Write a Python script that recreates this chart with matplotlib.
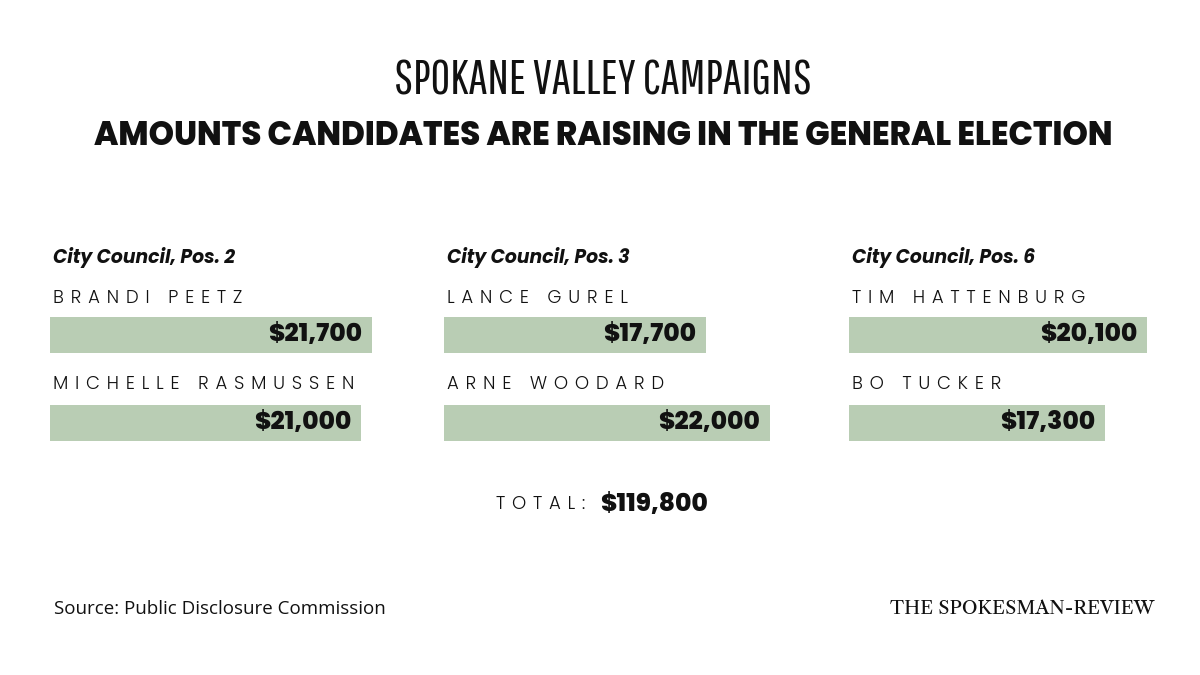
"""
plot.py

Spokane Valley campaigns: three small groups of horizontal bars, one group
per council position, with the dollar amount printed inside each bar.
"""
import matplotlib
matplotlib.use("Agg")
import matplotlib.pyplot as plt

BACKGROUND = "#FFFFFF"
BAR = "#B9CDB4"
TEXT = "#111111"

W, H = 1200, 675

positions = ["City Council, Pos. 2", "City Council, Pos. 3", "City Council, Pos. 6"]
candidates = [
    ["BRANDI PEETZ", "MICHELLE RASMUSSEN"],
    ["LANCE GUREL", "ARNE WOODARD"],
    ["TIM HATTENBURG", "BO TUCKER"],
]
raised = [
    [21700, 21000],
    [17700, 22000],
    [20100, 17300],
]
total = 119800

# layout, in pixels of the final image
COL_X = [50, 444, 849]
COL_W = 340
PX_PER_DOLLAR = 0.01482
BAR_Y = [335, 423]
NAME_Y = [299, 385]
BAR_H = 36

SANS = ["Poppins", "Lato", "DejaVu Sans"]


def fx(px):
    return px / W


def fy(py):
    return 1 - py / H


def spaced(s):
    # tracked-out caps, as in the original graphic
    return "\u2009\u2009\u2009".join(s)


def main():
    fig = plt.figure(figsize=(12, 6.75), dpi=100)
    fig.patch.set_facecolor(BACKGROUND)

    fig.text(fx(603), fy(81), "SPOKANE VALLEY CAMPAIGNS", ha="center", va="center",
             fontsize=34.5, family=["Pathway Gothic One", "Fira Sans Extra Condensed"],
             color=TEXT)
    fig.text(fx(603), fy(137), "AMOUNTS CANDIDATES ARE RAISING IN THE GENERAL ELECTION",
             ha="center", va="center", fontsize=23.3, family=SANS, fontweight=800,
             color=TEXT)

    for i in range(3):
        ax = fig.add_axes([fx(COL_X[i]), fy(460), fx(COL_W), (460 - 240) / H])
        ax.set_xlim(0, COL_W / PX_PER_DOLLAR)
        ax.set_ylim(460, 240)
        ax.axis("off")

        ax.barh(BAR_Y, raised[i], height=BAR_H, color=BAR, align="center")
        for y, v in zip(BAR_Y, raised[i]):
            ax.annotate(f"${v:,}", xy=(v, y), xytext=(-7, 0), textcoords="offset points",
                        ha="right", va="center", fontsize=18, family=SANS,
                        fontweight=800, color=TEXT)

        fig.text(fx(COL_X[i] + 3), fy(257), positions[i], ha="left", va="center",
                 fontsize=13.5, family=SANS, fontweight=700, style="italic",
                 color=TEXT)
        for y, name in zip(NAME_Y, candidates[i]):
            fig.text(fx(COL_X[i] + 3), fy(y), spaced(name), ha="left", va="center",
                     fontsize=13, family=SANS, fontweight=300, color=TEXT)

    fig.text(fx(585), fy(505), spaced("TOTAL:"), ha="right", va="center", fontsize=13,
             family=SANS, fontweight=300, color=TEXT)
    fig.text(fx(600), fy(505), f"${total:,}", ha="left", va="center", fontsize=18,
             family=SANS, fontweight=800, color=TEXT)

    fig.text(fx(54), fy(609), "Source: Public Disclosure Commission", ha="left",
             va="center", fontsize=13.5, family="Open Sans", color=TEXT)
    fig.text(fx(1154), fy(609), "THE SPOKESMAN-REVIEW", ha="right", va="center",
             fontsize=13.5, family=["Libre Caslon Text", "Libre Baskerville"], color=TEXT)

    fig.savefig("out.png", facecolor=BACKGROUND)
    plt.close(fig)


if __name__ == "__main__":
    main()
